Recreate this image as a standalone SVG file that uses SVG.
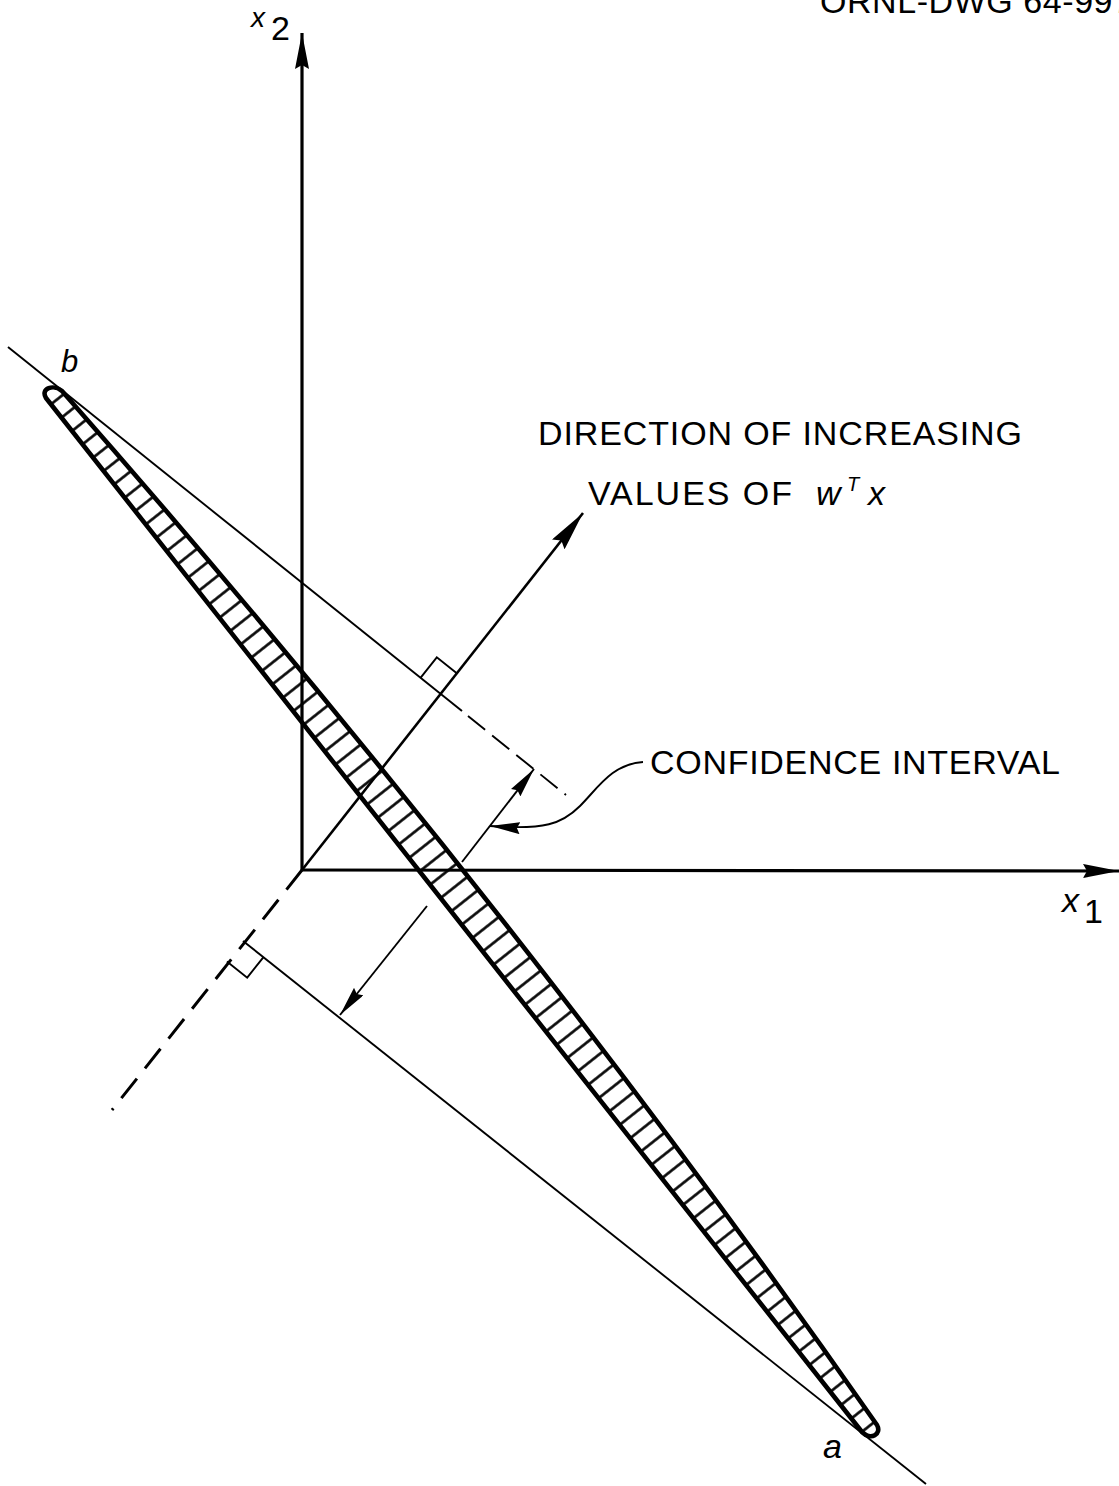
<svg xmlns="http://www.w3.org/2000/svg" width="1119" height="1486" viewBox="0 0 1119 1486">
<style>
.lbl{font-family:"Liberation Sans","DejaVu Sans",sans-serif;font-size:34px;fill:#000}
.it{font-family:"Liberation Sans","DejaVu Sans",sans-serif;font-style:italic;fill:#000}
.thick{stroke:#000;stroke-width:3.2;fill:none}
.med{stroke:#000;stroke-width:2.6;fill:none}
.thin{stroke:#000;stroke-width:1.9;fill:none}
</style>
<defs>
<marker id="ahBig" markerUnits="userSpaceOnUse" markerWidth="36" markerHeight="14" refX="36" refY="7" orient="auto" viewBox="0 0 36 14"><path d="M0,0 L36,7 L0,14 L4,7 z" fill="#000"/></marker>
<marker id="ahW" markerUnits="userSpaceOnUse" markerWidth="40" markerHeight="16" refX="40" refY="8" orient="auto" viewBox="0 0 40 16"><path d="M0,0 L40,8 L0,16 L5,8 z" fill="#000"/></marker>
<marker id="ahSm" markerUnits="userSpaceOnUse" markerWidth="30" markerHeight="12" refX="30" refY="6" orient="auto" viewBox="0 0 30 12"><path d="M0,0 L30,6 L0,12 L3,6 z" fill="#000"/></marker>
<pattern id="hatch" patternUnits="userSpaceOnUse" width="17" height="40" patternTransform="rotate(51.6)"><line x1="8.5" y1="-5" x2="8.5" y2="45" stroke="#000" stroke-width="2.6"/></pattern>
</defs>
<rect width="1119" height="1486" fill="#fff"/>
<g id="connectors">
<line id="axis-x2" class="thick" x1="302" y1="870" x2="302" y2="33" marker-end="url(#ahBig)"/>
<line id="axis-x1" class="thick" x1="302" y1="870" x2="1119" y2="871" marker-end="url(#ahBig)"/>
<line id="w-dir" class="med" x1="302" y1="870" x2="583" y2="513" marker-end="url(#ahW)"/>
<path id="upper-tangent" class="thin" d="M8,347 L462,711"/>
<path id="upper-tangent-dash" class="thin" stroke-dasharray="22 9" d="M468,716 L566,795"/>
<path id="lower-dash" stroke="#000" stroke-width="3" fill="none" stroke-dasharray="25 13" d="M302,870 L112,1110"/>
<path id="lower-tangent" class="thin" d="M243,941 L926,1484"/>
<polyline id="ra-upper" class="thin" points="420.7,677.7 436.8,657.3 457.1,673.6"/>
<polyline id="ra-lower" class="thin" points="263.3,957.3 247.2,977.7 226.9,961.4"/>
<line id="ci-up" class="thin" x1="462" y1="862" x2="534" y2="769" marker-end="url(#ahSm)"/>
<line id="ci-down" class="thin" x1="427" y1="906" x2="340" y2="1015" marker-end="url(#ahSm)"/>
<path id="leader" class="thin" d="M643,762 C612,764 598,788 580,806 C562,824 545,830 490,826" marker-end="url(#ahSm)"/>
</g>
<g id="band">
<path d="M62,391 Q514,905 877,1425 C882,1434 871,1441 862,1432 Q456,919 46,398 C40,388 54,384 62,391 Z" fill="url(#hatch)" stroke="#000" stroke-width="4.6" stroke-linejoin="round"/>
</g>
<g id="labels">
<text class="lbl" x="820" y="13" textLength="312" lengthAdjust="spacing">ORNL-DWG 64-997</text>
<text class="it" x="251" y="27" font-size="28">x</text>
<text class="lbl" x="271" y="40" font-size="21">2</text>
<text class="it" x="1062" y="912" font-size="34">x</text>
<text class="lbl" x="1084" y="923" font-size="15">1</text>
<text class="it" x="61" y="372" font-size="31">b</text>
<text class="it" x="823" y="1458" font-size="34">a</text>
<text class="lbl" x="538" y="445" textLength="484" lengthAdjust="spacing">DIRECTION OF INCREASING</text>
<text class="lbl" x="588" y="505" textLength="204" lengthAdjust="spacing">VALUES OF</text>
<text class="it" x="816" y="505" font-size="34">w</text>
<text class="it" x="847" y="491" font-size="20">T</text>
<text class="it" x="868" y="505" font-size="34">x</text>
<text class="lbl" x="650" y="774" textLength="410" lengthAdjust="spacing">CONFIDENCE INTERVAL</text>
</g>
</svg>
